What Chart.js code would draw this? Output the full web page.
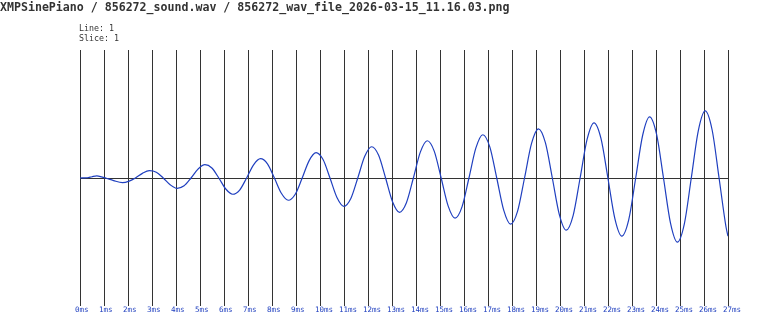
<!DOCTYPE html>
<html>
<head>
<meta charset="utf-8">
<script src="https://cdn.jsdelivr.net/npm/chart.js@4/dist/chart.umd.min.js"></script>
<style>
  body { margin: 0; background: #fff; }
  #wrap { position: relative; width: 768px; height: 316px; }
  .t { position: absolute; font-family: "DejaVu Sans Mono", monospace; color: #333; white-space: pre; }
  #title { left: 0; top: 1px; font-size: 11.6px; font-weight: bold; line-height: 12px; }
  #sub { left: 79px; top: 23px; font-size: 8.3px; line-height: 10px; }
</style>
</head>
<body>
<div id="wrap">
  <canvas id="myChart" width="768" height="316"></canvas>
  <div class="t" id="title">XMPSinePiano / 856272_sound.wav / 856272_wav_file_2026-03-15_11.16.03.png</div>
  <div class="t" id="sub">Line: 1
Slice: 1</div>
</div>
<script>
// time in ms
let times = [0, 0.3, 0.5, 0.7, 0.9, 1.07, 1.4, 1.77, 2.05,
  2.310, 2.600, 2.889, 3.179, 3.468, 3.758, 4.047, 4.337,
  4.626, 4.916, 5.205, 5.495, 5.784, 6.074, 6.363, 6.653,
  6.942, 7.232, 7.521, 7.811, 8.100, 8.390, 8.679, 8.969,
  9.258, 9.548, 9.837, 10.127, 10.416, 10.706, 10.995, 11.285,
  11.574, 11.864, 12.153, 12.443, 12.732, 13.022, 13.311, 13.601,
  13.890, 14.180, 14.469, 14.759, 15.048, 15.338, 15.627, 15.917,
  16.206, 16.496, 16.785, 17.075, 17.364, 17.654, 17.943, 18.233,
  18.522, 18.812, 19.101, 19.391, 19.680, 19.970, 20.259, 20.549,
  20.838, 21.128, 21.417, 21.707, 21.996, 22.286, 22.575, 22.865,
  23.154, 23.444, 23.733, 24.023, 24.312, 24.602, 24.891, 25.181,
  25.470, 25.760, 26.049, 26.339, 26.628, 26.918, 27.0];

// amplitude, full scale = 1
let amps = [0, 0.002, 0.010, 0.016, 0.009, 0, -0.020, -0.036, -0.024,
  0, 0.036, 0.057, 0.045, 0, -0.053, -0.081, -0.061,
  0, 0.069, 0.104, 0.078, 0, -0.086, -0.127, -0.094,
  0, 0.103, 0.151, 0.111, 0, -0.119, -0.174, -0.127,
  0, 0.136, 0.198, 0.144, 0, -0.152, -0.221, -0.160,
  0, 0.169, 0.244, 0.177, 0, -0.185, -0.268, -0.193,
  0, 0.202, 0.291, 0.210, 0, -0.218, -0.314, -0.226,
  0, 0.235, 0.338, 0.243, 0, -0.251, -0.361, -0.259,
  0, 0.268, 0.384, 0.276, 0, -0.284, -0.408, -0.292,
  0, 0.301, 0.431, 0.309, 0, -0.317, -0.454, -0.325,
  0, 0.334, 0.478, 0.342, 0, -0.350, -0.501, -0.358,
  0, 0.367, 0.524, 0.375, 0, -0.383, -0.455];

let tickLabels = ["0ms", "1ms", "2ms", "3ms", "4ms", "5ms", "6ms", "7ms", "8ms", "9ms",
  "10ms", "11ms", "12ms", "13ms", "14ms", "15ms", "16ms", "17ms", "18ms", "19ms",
  "20ms", "21ms", "22ms", "23ms", "24ms", "25ms", "26ms", "27ms"];

let points = times.map((t, i) => ({ x: t, y: amps[i] }));

new Chart("myChart", {
  type: "line",
  data: {
    datasets: [
      {
        data: points,
        borderColor: "#1f3fbf",
        borderWidth: 1.2,
        pointRadius: 0,
        cubicInterpolationMode: "monotone",
        fill: false,
      },
    ],
  },
  options: {
    responsive: false,
    animation: false,
    layout: { padding: { left: 80, right: 40, top: 50, bottom: 0 } },
    plugins: {
      legend: { display: false },
      tooltip: { enabled: false },
    },
    scales: {
      x: {
        type: "linear",
        min: 0,
        max: 27,
        afterFit: (s) => { s.height = 10; },
        border: { display: false },
        grid: { color: "#333", lineWidth: 1, drawTicks: false },
        ticks: {
          stepSize: 1,
          autoSkip: false,
          maxRotation: 0,
          align: "start",
          labelOffset: -5,
          padding: 0,
          color: "#1f3fbf",
          font: { family: "DejaVu Sans Mono", size: 7.5, lineHeight: 1 },
          callback: (v, i) => tickLabels[i],
        },
      },
      y: {
        min: -1,
        max: 1,
        afterFit: (s) => { s.width = 0; },
        border: { display: false },
        grid: {
          drawTicks: false,
          color: (ctx) => (ctx.tick && ctx.tick.value === 0 ? "#333" : "rgba(0,0,0,0)"),
        },
        ticks: { display: false, stepSize: 1 },
      },
    },
  },
});
</script>
</body>
</html>
